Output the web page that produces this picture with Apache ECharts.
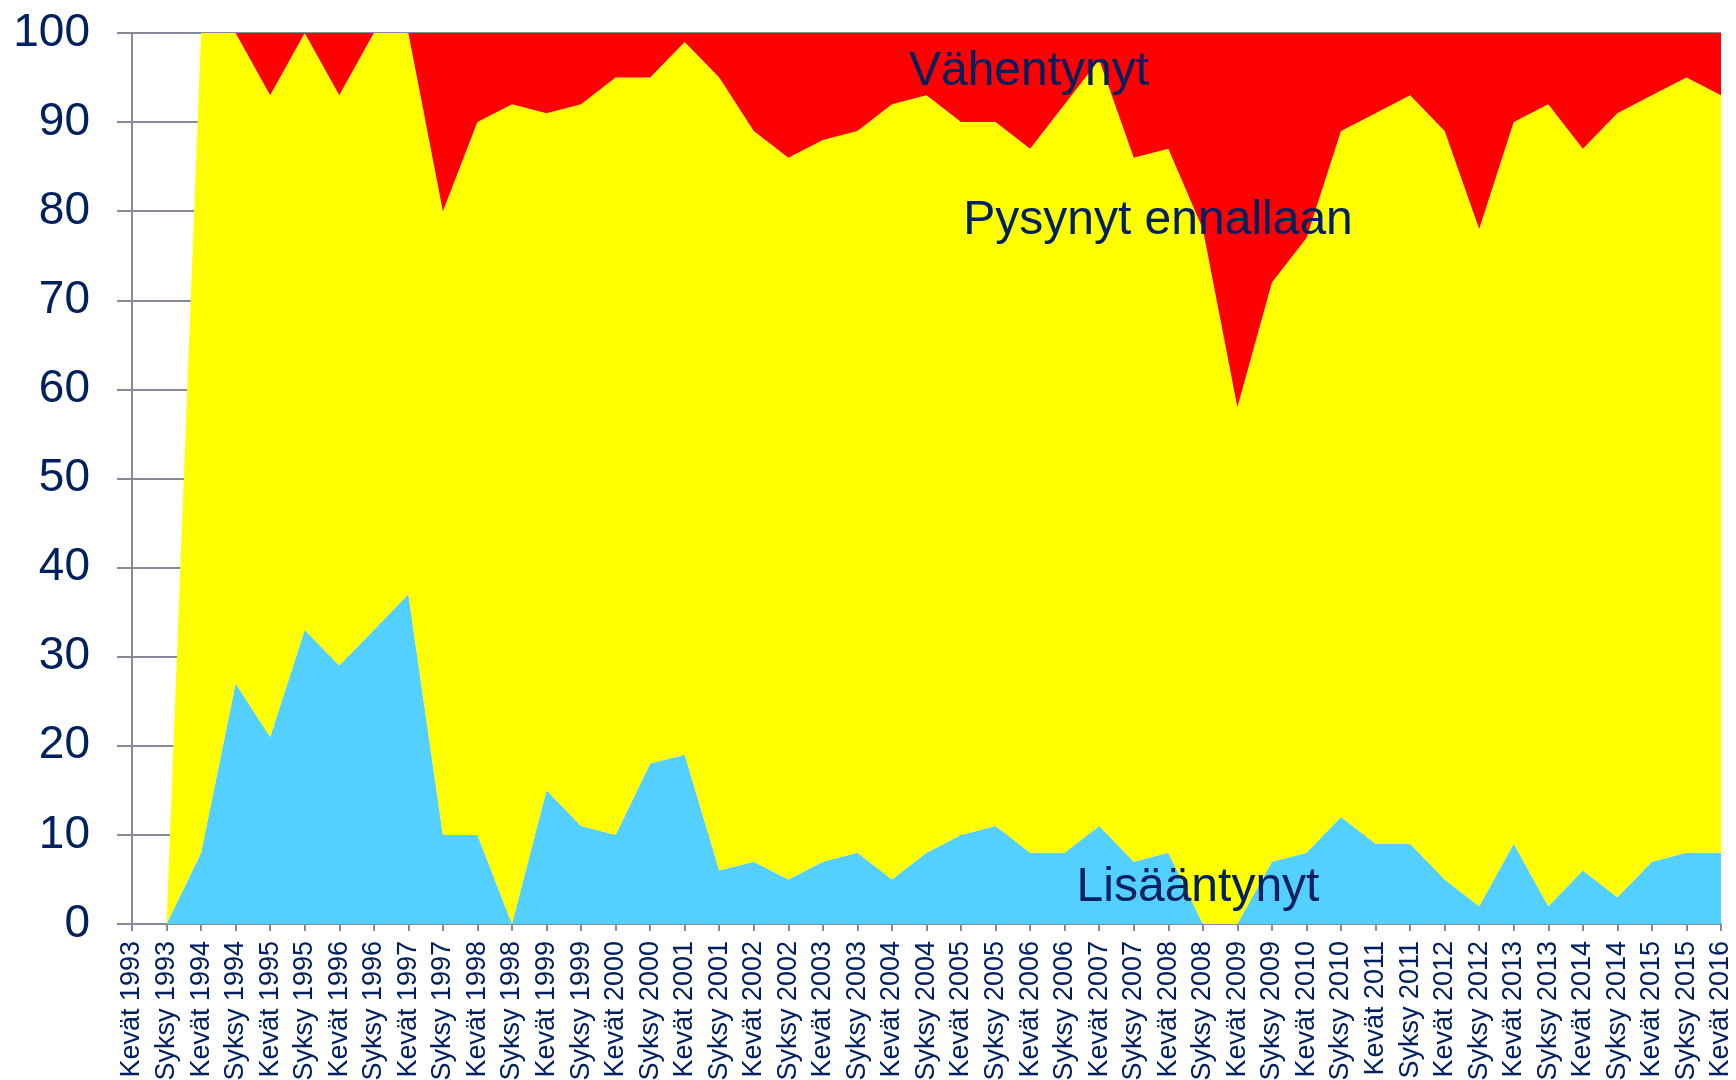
<!DOCTYPE html>
<html>
<head>
<meta charset="utf-8">
<script src="https://cdn.jsdelivr.net/npm/echarts@6/dist/echarts.min.js"></script>
<style>
  html, body { margin: 0; padding: 0; background: #fff; }
  #chart { width: 1736px; height: 1080px; }
</style>
</head>
<body>
<div id="chart"></div>
<script>
// kausi (kevät / syksy)
var kaudet = [
  'Kevät 1993', 'Syksy 1993', 'Kevät 1994', 'Syksy 1994', 'Kevät 1995', 'Syksy 1995',
  'Kevät 1996', 'Syksy 1996', 'Kevät 1997', 'Syksy 1997', 'Kevät 1998', 'Syksy 1998',
  'Kevät 1999', 'Syksy 1999', 'Kevät 2000', 'Syksy 2000', 'Kevät 2001', 'Syksy 2001',
  'Kevät 2002', 'Syksy 2002', 'Kevät 2003', 'Syksy 2003', 'Kevät 2004', 'Syksy 2004',
  'Kevät 2005', 'Syksy 2005', 'Kevät 2006', 'Syksy 2006', 'Kevät 2007', 'Syksy 2007',
  'Kevät 2008', 'Syksy 2008', 'Kevät 2009', 'Syksy 2009', 'Kevät 2010', 'Syksy 2010',
  'Kevät 2011', 'Syksy 2011', 'Kevät 2012', 'Syksy 2012', 'Kevät 2013', 'Syksy 2013',
  'Kevät 2014', 'Syksy 2014', 'Kevät 2015', 'Syksy 2015', 'Kevät 2016'
];

// osuudet %, pinottu
var lisaantynyt = ['-', 0, 8, 27, 21, 33, 29, 33, 37, 10, 10, 0, 15, 11, 10, 18, 19, 6, 7, 5, 7, 8, 5, 8,
  10, 11, 8, 8, 11, 7, 8, 0, 0, 7, 8, 12, 9, 9, 5, 2, 9, 2, 6, 3, 7, 8, 8];
var pysynyt = ['-', 0, 92, 73, 72, 67, 64, 67, 63, 70, 80, 92, 76, 81, 85, 77, 80, 89, 82, 81, 81, 81, 87, 85,
  80, 79, 79, 84, 86, 79, 79, 78, 58, 65, 69, 77, 82, 84, 84, 76, 81, 90, 81, 88, 86, 87, 85];
var vahentynyt = ['-', 0, 0, 0, 7, 0, 7, 0, 0, 20, 10, 8, 9, 8, 5, 5, 1, 5, 11, 14, 12, 11, 8, 7,
  10, 10, 13, 8, 3, 14, 13, 22, 42, 28, 23, 11, 9, 7, 11, 22, 10, 8, 13, 9, 7, 5, 7];

var yTicks = [0, 10, 20, 30, 40, 50, 60, 70, 80, 90, 100];

var tekstiVari = '#002060';
var akseliVari = '#878a9c';
var fontti = '"Liberation Sans", Arial, sans-serif';

var myChart = echarts.init(document.getElementById('chart'));

function alue(nimi, data, vari) {
  return {
    name: nimi,
    type: 'line',
    stack: 'yht',
    data: data,
    symbol: 'none',
    lineStyle: { width: 0 },
    areaStyle: { color: vari, opacity: 1 },
    itemStyle: { color: vari }
  };
}

// tekstit kuvion sisällä
var nimet = [
  { text: 'Vähentynyt', x: 1029, y: 72 },
  { text: 'Pysynyt ennallaan', x: 1158, y: 221 },
  { text: 'Lisääntynyt', x: 1198, y: 888 }
];

var option = {
  animation: false,
  backgroundColor: '#ffffff',
  grid: { left: 132, right: 15, top: 33, bottom: 156, containLabel: false, outerBoundsMode: 'none' },
  xAxis: {
    type: 'category',
    data: kaudet,
    boundaryGap: false,
    axisLine: { lineStyle: { color: akseliVari, width: 2 } },
    axisTick: { show: true, interval: 0, length: 7, lineStyle: { color: akseliVari, width: 2 } },
    axisLabel: {
      interval: 0,
      rotate: 90,
      margin: 17,
      color: tekstiVari,
      fontSize: 27,
      fontFamily: fontti
    },
    splitLine: { show: false }
  },
  yAxis: {
    type: 'value',
    min: yTicks[0],
    max: yTicks[yTicks.length - 1],
    interval: 10,
    axisLine: { show: true, lineStyle: { color: akseliVari, width: 2 } },
    axisTick: { show: true, length: 15, lineStyle: { color: akseliVari, width: 2 } },
    axisLabel: {
      margin: 42,
      color: tekstiVari,
      fontSize: 46,
      fontFamily: fontti
    },
    splitLine: { show: true, lineStyle: { color: akseliVari, width: 2 } }
  },
  graphic: nimet.map(function (n) {
    return {
      type: 'text',
      z: 100,
      x: n.x,
      y: n.y,
      style: {
        text: n.text,
        fill: tekstiVari,
        font: '48px ' + fontti,
        textAlign: 'center',
        textVerticalAlign: 'middle'
      }
    };
  }),
  series: [
    alue('Lisääntynyt', lisaantynyt, '#53d0ff'),
    alue('Pysynyt ennallaan', pysynyt, '#ffff00'),
    alue('Vähentynyt', vahentynyt, '#ff0000')
  ]
};

myChart.setOption(option);
</script>
</body>
</html>
